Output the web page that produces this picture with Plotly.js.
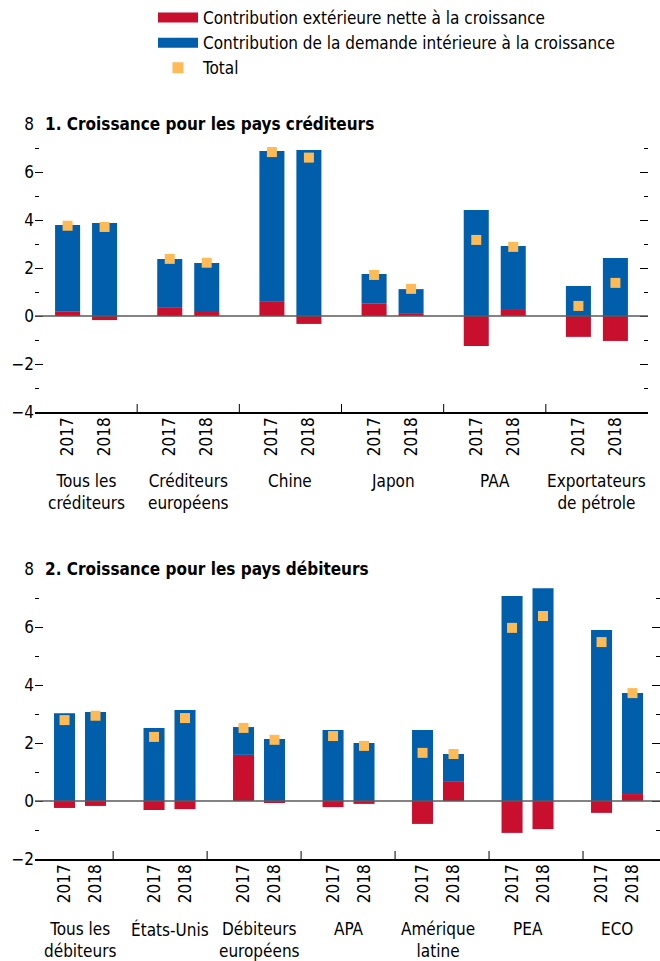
<!DOCTYPE html>
<html lang="fr">
<head>
<meta charset="UTF-8">
<title>Contributions à la croissance</title>
<script src="https://cdn.plot.ly/plotly-3.0.1.min.js"></script>
<style>
  body { margin: 0; background: #fff; }
  #chart { width: 660px; height: 961px; }
</style>
</head>
<body>
<div id="chart"></div>
<script>
// Données (points de pourcentage)
const years = ['2017', '2018'];

const credGroups = ['Tous les<br>créditeurs', 'Créditeurs<br>européens', 'Chine', 'Japon', 'PAA', 'Exportateurs<br>de pétrole'];
const credExt17 = [0.18, 0.37, 0.62, 0.51, -1.25, -0.87];
const credExt18 = [-0.17, 0.21, -0.33, 0.12, 0.29, -1.04];
const credDom17 = [3.61, 2.00, 6.25, 1.24, 4.42, 1.25];
const credDom18 = [3.88, 2.00, 6.92, 1.00, 2.63, 2.42];
const credTot17 = [3.76, 2.38, 6.83, 1.71, 3.17, 0.42];
const credTot18 = [3.71, 2.22, 6.60, 1.13, 2.88, 1.38];

const debtGroups = ['Tous les<br>débiteurs', 'États-Unis', 'Débiteurs<br>européens', 'APA', 'Amérique<br>latine', 'PEA', 'ECO'];
const debtExt17 = [-0.24, -0.31, 1.59, -0.21, -0.79, -1.10, -0.41];
const debtExt18 = [-0.17, -0.28, -0.07, -0.10, 0.66, -0.97, 0.24];
const debtDom17 = [3.03, 2.52, 0.96, 2.45, 2.45, 7.07, 5.90];
const debtDom18 = [3.07, 3.14, 2.14, 2.00, 0.96, 7.34, 3.48];
const debtTot17 = [2.79, 2.21, 2.52, 2.24, 1.66, 5.97, 5.48];
const debtTot18 = [2.94, 2.86, 2.11, 1.90, 1.62, 6.38, 3.72];

const RED = '#C8102E';
const BLUE = '#005EAB';
const ORANGE = '#FDBA55';
const FONT = '"DejaVu Sans Condensed", "DejaVu Sans", sans-serif';
const W = 660, H = 961;

function positions(n, off) {
  const xs = [];
  for (let i = 0; i < n; i++) { xs.push(i - off, i + off); }
  return xs;
}
function interleave(a, b) {
  const out = [];
  a.forEach((v, i) => out.push(v, b[i]));
  return out;
}

function panelTraces(n, off, width, ext17, ext18, dom17, dom18, tot17, tot18, xa, ya) {
  const xs = positions(n, off);
  return [
    { type: 'bar', x: xs, y: interleave(ext17, ext18), width: width, marker: { color: RED },
      xaxis: xa, yaxis: ya, showlegend: false, hoverinfo: 'y' },
    { type: 'bar', x: xs, y: interleave(dom17, dom18), width: width, marker: { color: BLUE },
      xaxis: xa, yaxis: ya, showlegend: false, hoverinfo: 'y' },
    { type: 'scatter', mode: 'markers', x: xs, y: interleave(tot17, tot18),
      marker: { symbol: 'square', size: 10, color: ORANGE },
      xaxis: xa, yaxis: ya, showlegend: false, hoverinfo: 'y' }
  ];
}

const credOff = 0.181, debtOff = 0.173;
const data = [
  ...panelTraces(credGroups.length, credOff, 0.245, credExt17, credExt18, credDom17, credDom18, credTot17, credTot18, 'x', 'y'),
  ...panelTraces(debtGroups.length, debtOff, 0.235, debtExt17, debtExt18, debtDom17, debtDom18, debtTot17, debtTot18, 'x2', 'y2'),
  // entrées de légende
  { type: 'scatter', mode: 'lines', x: [null], y: [null], line: { color: RED, width: 10 },
    name: 'Contribution extérieure nette à la croissance' },
  { type: 'scatter', mode: 'lines', x: [null], y: [null], line: { color: BLUE, width: 10 },
    name: 'Contribution de la demande intérieure à la croissance' },
  { type: 'scatter', mode: 'markers', x: [null], y: [null], marker: { symbol: 'square', size: 11, color: ORANGE },
    name: 'Total' }
];

const tickFont = { family: FONT, size: 17, color: '#000' };

function yAxis(domain, range) {
  return {
    domain: domain, range: range, dtick: 2, tick0: 0,
    ticks: 'inside', ticklen: 8, tickwidth: 1, tickcolor: '#000', mirror: 'ticks',
    minor: { dtick: 1, ticks: 'inside', ticklen: 4, tickwidth: 1, tickcolor: '#000' },
    showline: false, showgrid: false, zeroline: false, fixedrange: true,
    tickfont: tickFont
  };
}
function xAxis(domain, range, n, off, anchor) {
  return {
    domain: domain, range: range, anchor: anchor,
    tickmode: 'array', tickvals: positions(n, off), ticktext: positions(n, off).map((v, i) => years[i % 2]),
    tickangle: -90, ticks: '', ticklabelstandoff: -3,
    showline: true, linecolor: '#000', linewidth: 1.5,
    showgrid: false, zeroline: false, fixedrange: true, tickfont: tickFont
  };
}

const credYDom = [1 - 412 / H, 1 - 124 / H];
const debtYDom = [1 - 859 / H, 1 - 569 / H];

const shapes = [];
const annotations = [];

// lignes de zéro au-dessus des barres
[['x domain', 'y'], ['x2 domain', 'y2']].forEach(([xr, yr]) => {
  shapes.push({ type: 'line', xref: xr, yref: yr, x0: 0, x1: 1, y0: 0, y1: 0, layer: 'above',
    line: { color: '#5a5a5a', width: 1.5 } });
});
// séparateurs de groupes
for (let i = 0; i < credGroups.length - 1; i++) {
  shapes.push({ type: 'line', xref: 'x', yref: 'y domain', x0: i + 0.5, x1: i + 0.5, y0: 0, y1: 8 / 288,
    line: { color: '#000', width: 1 } });
}
for (let i = 0; i < debtGroups.length - 1; i++) {
  const sx = 0.37 + i * 1.05;
  shapes.push({ type: 'line', xref: 'x2', yref: 'y2 domain', x0: sx, x1: sx, y0: 0, y1: 8 / 290,
    line: { color: '#000', width: 1 } });
}

// noms des groupes
credGroups.forEach((g, i) => annotations.push({ xref: 'x', yref: 'paper', x: i, y: 1 - 469 / H,
  xanchor: 'center', yanchor: 'top', text: g, showarrow: false, font: tickFont }));
debtGroups.forEach((g, i) => annotations.push({ xref: 'x2', yref: 'paper', x: i, y: 1 - 917 / H,
  xanchor: 'center', yanchor: 'top', text: g, showarrow: false, font: tickFont }));

// titres des panneaux
annotations.push({ xref: 'paper', yref: 'y', x: 43 / W, y: 8, xanchor: 'left', yanchor: 'middle',
  text: '<b>1. Croissance pour les pays créditeurs</b>', showarrow: false, font: tickFont });
annotations.push({ xref: 'paper', yref: 'y2', x: 43 / W, y: 8, xanchor: 'left', yanchor: 'middle',
  text: '<b>2. Croissance pour les pays débiteurs</b>', showarrow: false, font: tickFont });

const layout = {
  width: W, height: H,
  margin: { l: 0, r: 0, t: 0, b: 0 },
  paper_bgcolor: '#fff', plot_bgcolor: 'rgba(0,0,0,0)',
  barmode: 'relative',
  showlegend: true,
  legend: { x: 153 / W, y: 1, xanchor: 'left', yanchor: 'top', font: tickFont,
    itemwidth: 40, tracegroupgap: 0, bgcolor: 'rgba(0,0,0,0)', traceorder: 'normal' },
  xaxis: xAxis([35 / W, 648 / W], [-0.5, 5.5], credGroups.length, credOff, 'y'),
  yaxis: Object.assign(yAxis(credYDom, [-4, 8]), { anchor: 'x' }),
  xaxis2: xAxis([35 / W, 1], [-0.503, 6.48], debtGroups.length, debtOff, 'y2'),
  yaxis2: Object.assign(yAxis(debtYDom, [-2, 8]), { anchor: 'x2' }),
  shapes: shapes,
  annotations: annotations
};

Plotly.newPlot('chart', data, layout, { displayModeBar: false, staticPlot: true });
</script>
</body>
</html>
